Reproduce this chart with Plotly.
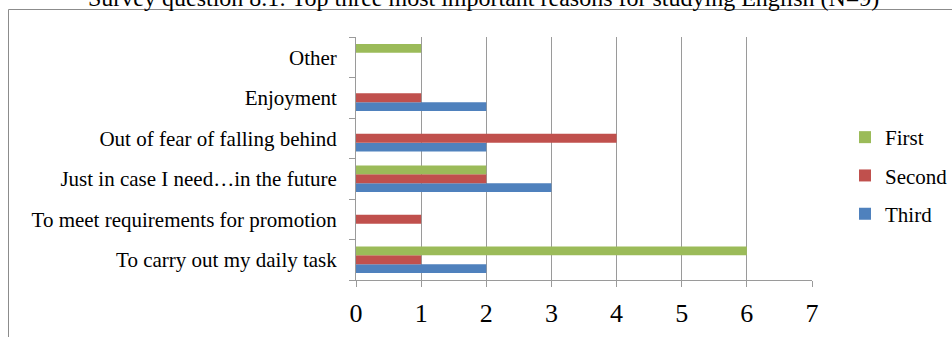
import plotly.graph_objects as go

categories = [
    "To carry out my daily task",
    "To meet requirements for promotion",
    "Just in case I need…in the future",
    "Out of fear of falling behind",
    "Enjoyment",
    "Other",
]
first = [6, 0, 2, 0, 0, 1]
second = [1, 1, 2, 4, 1, 0]
third = [2, 0, 3, 2, 2, 0]

series = [
    ("Third", third, "#4F81BD", 3),
    ("Second", second, "#C0504D", 2),
    ("First", first, "#9BBB59", 1),
]

fig = go.Figure()
for name, vals, color, rank in series:
    fig.add_trace(go.Bar(
        y=categories, x=vals, name=name, orientation="h",
        marker=dict(color=color, line=dict(width=0)),
        legendgroup=name, legendrank=rank,
    ))

W, H = 952, 337
L, R, T, B = 356, 140, 37, 57
pw = W - L - R
ph = H - T - B

def px_to_paper_x(px):
    return (px - L) / pw

def px_to_paper_y(py):
    return (H - B - py) / ph

font_family = "Liberation Serif"

fig.update_layout(
    width=W, height=H,
    margin=dict(l=L, r=R, t=T, b=B, pad=0, autoexpand=False),
    paper_bgcolor="white", plot_bgcolor="white",
    barmode="group", bargap=0.35, bargroupgap=0,
    font=dict(family=font_family, color="black"),
    showlegend=True,
    legend=dict(
        traceorder="grouped", tracegroupgap=8,
        xref="container", yref="container",
        x=845 / W, xanchor="left",
        y=1 - 117 / H, yanchor="top",
        font=dict(family=font_family, size=21, color="black"),
        itemwidth=30, bgcolor="rgba(0,0,0,0)",
    ),
    xaxis=dict(
        range=[0, 7], dtick=1, tick0=0,
        showgrid=True, gridcolor="#9A9A9A", gridwidth=1,
        showline=True, linecolor="#9A9A9A", linewidth=1,
        ticks="outside", ticklen=6, tickcolor="#9A9A9A",
        tickfont=dict(family=font_family, size=26, color="black"),
        ticklabelstandoff=4,
        zeroline=False, fixedrange=True,
    ),
    yaxis=dict(
        type="category",
        showline=True, linecolor="#9A9A9A", linewidth=1,
        ticks="outside", ticklen=6, tickcolor="#9A9A9A", tickson="boundaries",
        tickfont=dict(family=font_family, size=21, color="black"),
        showgrid=False, ticklabelstandoff=14,
    ),
    shapes=[dict(
        type="rect", xref="paper", yref="paper",
        x0=px_to_paper_x(8.5), x1=px_to_paper_x(960),
        y0=px_to_paper_y(345), y1=px_to_paper_y(9.5),
        line=dict(color="#8C8C8C", width=1), fillcolor="rgba(0,0,0,0)",
        layer="below",
    )],
    annotations=[dict(
        text="Survey question 8.1: Top three most important reasons for studying English (N=9)",
        xref="paper", yref="paper",
        x=px_to_paper_x(483), y=px_to_paper_y(-2),
        xanchor="center", yanchor="middle", showarrow=False,
        font=dict(family=font_family, size=24, color="black"),
    )],
)

fig.write_html("out.html")
